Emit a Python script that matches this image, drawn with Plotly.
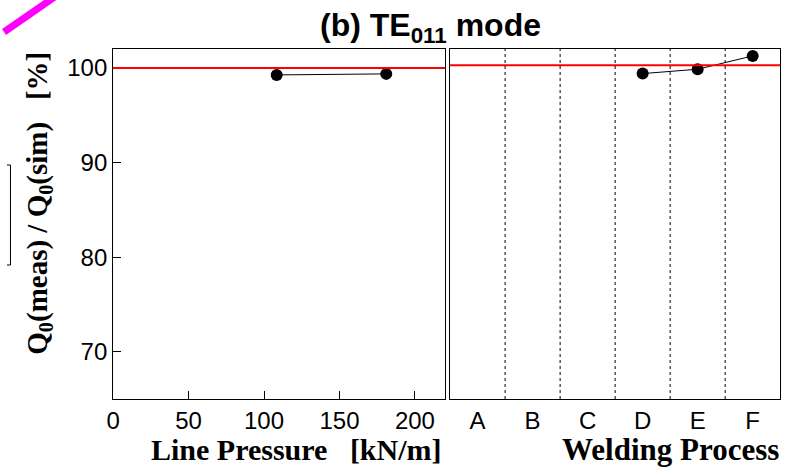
import plotly.graph_objects as go

# Data
pressure_x = [108.4, 181.0]
pressure_y = [99.26, 99.37]
weld_cats = ["A", "B", "C", "D", "E", "F"]
weld_x = ["D", "E", "F"]
weld_y = [99.40, 99.86, 101.27]
ref_left = 100.0
ref_right = 100.28
y_ticks = [70, 80, 90, 100]
x_ticks = [0, 50, 100, 150, 200]

W, H = 800, 468
def px(x): return x / W
def py(y): return 1 - y / H

fig = go.Figure()
fig.add_trace(go.Scatter(x=pressure_x, y=pressure_y, mode="lines+markers",
                         line=dict(color="black", width=1),
                         marker=dict(color="black", size=12),
                         xaxis="x", yaxis="y", showlegend=False))
fig.add_trace(go.Scatter(x=weld_x, y=weld_y, mode="lines+markers",
                         line=dict(color="black", width=1),
                         marker=dict(color="black", size=12),
                         xaxis="x2", yaxis="y2", showlegend=False))

tickfont = dict(family="Liberation Sans, Arial, sans-serif", size=24, color="black")
ydom = [py(399), py(49)]
fig.update_layout(
    width=W, height=H, margin=dict(l=0, r=0, t=0, b=0),
    paper_bgcolor="white", plot_bgcolor="white",
    xaxis=dict(domain=[px(107), px(442)], range=[0, 220], tickvals=x_ticks,
               ticks="inside", ticklen=8, tickcolor="black", showgrid=False,
               zeroline=False, showline=True, linecolor="black", linewidth=1,
               mirror=True, tickfont=tickfont, anchor="y"),
    yaxis=dict(domain=ydom, range=[65, 102], tickvals=y_ticks,
               ticks="inside", ticklen=8, tickcolor="black", showgrid=False,
               zeroline=False, showline=True, linecolor="black", linewidth=1,
               mirror=True, tickfont=tickfont, anchor="x"),
    xaxis2=dict(domain=[px(447), px(780)], type="category",
                categoryorder="array", categoryarray=weld_cats,
                range=[-0.5, 5.5], ticks="", showgrid=False, zeroline=False,
                showline=True, linecolor="black", linewidth=1, mirror=True,
                tickfont=tickfont, anchor="y2"),
    yaxis2=dict(domain=ydom, range=[65, 102], showticklabels=False, ticks="",
                showgrid=False, zeroline=False, showline=True,
                linecolor="black", linewidth=1, mirror=True, anchor="x2"),
)

shapes = []
shapes.append(dict(type="line", xref="x domain", yref="y", x0=0, x1=1,
                   y0=ref_left, y1=ref_left, line=dict(color="red", width=2)))
shapes.append(dict(type="line", xref="x2 domain", yref="y2", x0=0, x1=1,
                   y0=ref_right, y1=ref_right, line=dict(color="red", width=2)))
for i in range(1, len(weld_cats)):
    shapes.append(dict(type="line", xref="x2", yref="y2 domain", x0=i - 0.5,
                       x1=i - 0.5, y0=0, y1=1,
                       line=dict(color="black", width=1, dash="dot")))
# cropped-figure artifacts
shapes.append(dict(type="line", xref="paper", yref="paper", x0=px(-3), y0=py(32),
                   x1=px(48), y1=py(-3), line=dict(color="#ff00ff", width=7)))
edge = dict(color="black", width=1)
shapes.append(dict(type="line", xref="paper", yref="paper", x0=0, x1=px(3.5),
                   y0=py(165), y1=py(165), line=edge))
shapes.append(dict(type="line", xref="paper", yref="paper", x0=0, x1=px(3.5),
                   y0=py(265), y1=py(265), line=edge))
shapes.append(dict(type="line", xref="paper", yref="paper", x0=px(3.5), x1=px(3.5),
                   y0=py(265), y1=py(165), line=edge))
fig.update_layout(shapes=shapes)

serif = "Liberation Serif, Times New Roman, serif"
ann = []
ann.append(dict(text="<b>(b) TE<sub>011</sub> mode</b>", xref="paper", yref="paper",
                x=px(427), y=py(27), xanchor="center", yanchor="middle",
                showarrow=False, font=dict(family="Liberation Sans, Arial, sans-serif",
                                           size=32, color="black")))
ann.append(dict(text="<b>Line Pressure &nbsp; [kN/m]</b>", xref="paper", yref="paper",
                x=px(441), y=py(449), xanchor="right", yanchor="middle",
                showarrow=False, font=dict(family=serif, size=30, color="black")))
ann.append(dict(text="<b>Welding Process</b>", xref="paper", yref="paper",
                x=px(781), y=py(449), xanchor="right", yanchor="middle",
                showarrow=False, font=dict(family=serif, size=31, color="black")))
ann.append(dict(text="<b>Q<sub>0</sub>(meas) / Q<sub>0</sub>(sim) &nbsp; [%]</b>",
                xref="paper", yref="paper", x=px(32), y=py(203), textangle=-90,
                xanchor="center", yanchor="middle", showarrow=False,
                font=dict(family=serif, size=29, color="black")))
fig.update_layout(annotations=ann)

fig.write_html("out.html")
